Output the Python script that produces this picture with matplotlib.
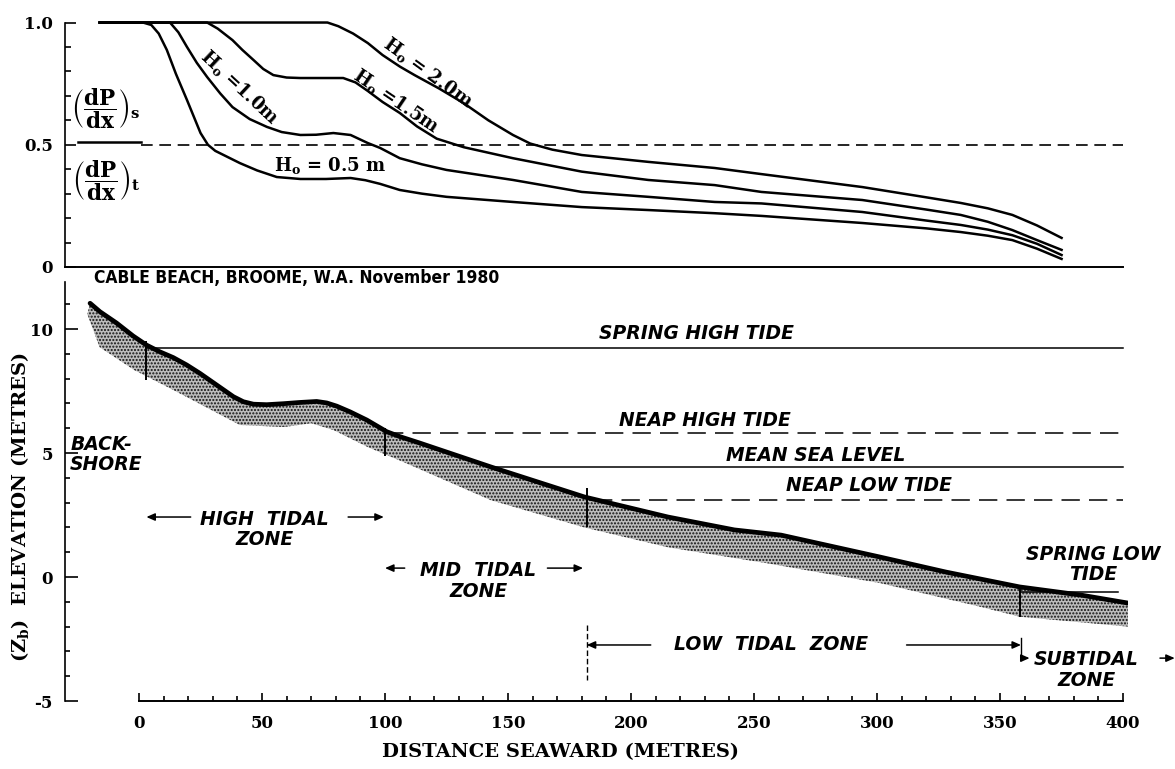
import numpy as np
import matplotlib.pyplot as plt

plt.rcParams['axes.unicode_minus'] = False
plt.rcParams['mathtext.fontset'] = 'dejavuserif'
plt.rcParams['hatch.linewidth'] = 1.0

SERIF = 'DejaVu Serif'
SANS = 'DejaVu Sans'

# ---- top panel: (dP/dx)s / (dP/dx)t for four offshore wave heights
h05_x = [-16, 1.6, 5, 8, 11.3, 15, 19.5, 25, 28, 31, 35, 41, 48, 56, 65.6, 76, 86, 92, 98, 106, 115, 125,
         152, 180, 207, 234, 253, 294, 320, 334, 345, 355, 365, 375]
h05_y = [1, 1, 0.99, 0.955, 0.888, 0.79, 0.683, 0.548, 0.5, 0.475, 0.455, 0.425, 0.395, 0.368, 0.36, 0.36,
         0.364, 0.355, 0.34, 0.315, 0.3, 0.287, 0.266, 0.245, 0.233, 0.22, 0.209, 0.18, 0.158, 0.143, 0.128,
         0.11, 0.075, 0.033]
h10_x = [-16, 12.6, 16, 19.5, 23.5, 27.7, 33, 38, 45, 52, 58, 65.6, 72, 79, 86, 93, 98, 106, 115, 125,
         152, 180, 207, 234, 253, 294, 320, 334, 345, 355, 365, 375]
h10_y = [1, 1, 0.96, 0.9, 0.835, 0.777, 0.71, 0.654, 0.605, 0.573, 0.552, 0.54, 0.541, 0.548, 0.54, 0.507,
         0.487, 0.445, 0.42, 0.397, 0.356, 0.307, 0.287, 0.266, 0.26, 0.225, 0.19, 0.172, 0.153, 0.13, 0.095,
         0.049]
h15_x = [-16, 27.7, 32, 38, 42, 46.5, 50.5, 54.6, 60, 65.6, 83, 88, 93, 99, 106, 113, 121, 132, 152, 180,
         207, 234, 253, 294, 320, 334, 345, 355, 365, 375]
h15_y = [1, 1, 0.975, 0.928, 0.888, 0.847, 0.81, 0.785, 0.775, 0.773, 0.773, 0.755, 0.72, 0.675, 0.63,
         0.575, 0.525, 0.49, 0.445, 0.39, 0.356, 0.335, 0.307, 0.274, 0.235, 0.213, 0.185, 0.151, 0.11, 0.07]
h20_x = [-16, 76.6, 81, 87, 93, 99, 106, 112, 122, 132, 142, 152, 159, 168, 180, 207, 234, 253, 294, 320,
         334, 345, 355, 365, 375]
h20_y = [1, 1, 0.985, 0.955, 0.916, 0.867, 0.82, 0.785, 0.73, 0.67, 0.6, 0.54, 0.505, 0.48, 0.458, 0.43,
         0.405, 0.38, 0.327, 0.285, 0.262, 0.24, 0.213, 0.17, 0.119]
curve_labels = ['H$_\\mathbf{o}$ = 0.5 m', 'H$_\\mathbf{o}$ =1.0m', 'H$_\\mathbf{o}$ =1.5m', 'H$_\\mathbf{o}$ = 2.0m']
threshold = 0.5
top_yticks = [0, 0.5, 1.0]
top_yticklabels = ['0', '0.5', '1.0']

# ---- bottom panel: beach profile, Cable Beach, Broome
profile_x = [-19.9, -15.9, -9.1, -2.4, 3.1, 8.5, 13.9, 19.4, 24.8, 31.6, 38.4, 42.4, 46.5, 51.9, 58.7, 65.4,
             72.2, 76.3, 80.4, 85.8, 92.6, 100.7, 106.1, 114.2, 143, 181, 215, 242, 261, 301, 328, 358, 383, 402]
profile_z = [11.04, 10.7, 10.24, 9.72, 9.35, 9.08, 8.85, 8.55, 8.21, 7.74, 7.27, 7.07, 6.97, 6.95, 6.99, 7.04,
             7.08, 7.02, 6.89, 6.66, 6.33, 5.86, 5.66, 5.4, 4.44, 3.23, 2.42, 1.9, 1.69, 0.81, 0.2, -0.4, -0.73,
             -1.05]
base_x = [-21, -16, -2, 14, 32, 41, 59, 70, 79, 93, 106, 143, 181, 215, 255, 301, 342, 358, 402]
base_z = [10.6, 9.27, 8.35, 7.54, 6.6, 6.13, 6.05, 6.2, 5.93, 5.24, 4.7, 3.1, 2.0, 1.2, 0.56, -0.24, -1.2, -1.6, -2.0]

tide_names = ['SPRING HIGH TIDE', 'NEAP HIGH TIDE', 'MEAN SEA LEVEL', 'NEAP LOW TIDE', 'SPRING LOW\nTIDE']
tide_levels = [9.23, 5.8, 4.44, 3.1, -0.6]
tide_from = [3, 100, 143, 185, 358]
tide_to = [400, 400, 400, 400, 398]

zone_bounds = [3, 100, 182, 358]
mark_top = [9.5, 6.0, 3.6, -0.4]
mark_bot = [7.95, 4.9, 2.0, -1.6]

bot_xticks = list(range(0, 401, 50))
bot_yticks = [-5, 0, 5, 10]

fig = plt.figure(figsize=(11.75, 7.69), dpi=100)
ax_top = fig.add_axes([0.0555, 0.6528, 0.9045, 0.3338])
ax_bot = fig.add_axes([0.0555, 0.0884, 0.9045, 0.5482])

for ax in (ax_top, ax_bot):
    ax.set_xlim(-30, 402)
    ax.spines['top'].set_visible(False)
    ax.spines['right'].set_visible(False)
    ax.spines['left'].set_linewidth(1.2)
    ax.spines['bottom'].set_linewidth(1.4)
    ax.set_facecolor('none')

# ---- top panel
ax_top.set_ylim(0, 1.05)
for cx, cy in [(h05_x, h05_y), (h10_x, h10_y), (h15_x, h15_y), (h20_x, h20_y)]:
    ax_top.plot(cx, cy, color='black', lw=1.8, solid_joinstyle='round')
ax_top.plot([1, 400], [threshold, threshold], color='black', lw=1.2, ls=(0, (7, 4)))
ax_top.plot([-25, 1], [threshold + 0.012] * 2, color='black', lw=1.8)

ax_top.spines['left'].set_bounds(0, 1.0)
ax_top.spines['bottom'].set_bounds(-30, 400)
ax_top.set_xticks([])
ax_top.set_yticks(top_yticks)
ax_top.set_yticklabels(top_yticklabels, fontfamily=SERIF, fontweight='bold', fontsize=12)
ax_top.set_yticks(np.arange(0.1, 1.0, 0.1), minor=True)
ax_top.tick_params(axis='y', which='major', direction='in', length=8, width=1.2, pad=9)
ax_top.tick_params(axis='y', which='minor', direction='in', length=4, width=1.2)

label_pos = [(77.6, 0.417, 0), (40.8, 0.735, -43), (104.5, 0.68, -34), (117.5, 0.795, -36)]
for txt, (lx, ly, rot) in zip(curve_labels, label_pos):
    ax_top.text(lx, ly, txt, rotation=rot, ha='center', va='center',
                fontfamily=SERIF, fontweight='bold', fontsize=13)

ax_top.text(-13.5, 0.646, r'$\left(\dfrac{\mathbf{dP}}{\mathbf{dx}}\right)_{\mathbf{s}}$',
            ha='center', va='center', fontsize=15.5)
ax_top.text(-13.5, 0.355, r'$\left(\dfrac{\mathbf{dP}}{\mathbf{dx}}\right)_{\mathbf{t}}$',
            ha='center', va='center', fontsize=15.5)

# ---- bottom panel
ax_bot.set_ylim(-5, 12)
ax_bot.fill(np.r_[profile_x, base_x[::-1]], np.r_[profile_z, base_z[::-1]],
            facecolor='#bdbdbd', edgecolor='#111111', hatch='.....', linewidth=0)
ax_bot.plot(profile_x, profile_z, color='black', lw=3.4, solid_capstyle='round',
            solid_joinstyle='round', zorder=4)

dash_styles = ['-', (0, (12, 6)), '-', (0, (12, 6)), '-']
for lvl, x0, x1, ls in zip(tide_levels, tide_from, tide_to, dash_styles):
    ax_bot.plot([x0, x1], [lvl, lvl], color='black', lw=1.1, ls=ls)

ax_bot.vlines(zone_bounds, mark_bot, mark_top, color='black', lw=1.4, zorder=5)

ax_bot.spines['left'].set_bounds(-5, 11.9)
ax_bot.spines['bottom'].set_bounds(0, 400)
ax_bot.set_xticks(bot_xticks)
ax_bot.set_xticklabels([str(v) for v in bot_xticks], fontfamily=SERIF, fontweight='bold', fontsize=12)
ax_bot.set_xticks(range(0, 401, 10), minor=True)
ax_bot.set_yticks(bot_yticks)
ax_bot.set_yticklabels([str(v) for v in bot_yticks], fontfamily=SERIF, fontweight='bold', fontsize=12)
ax_bot.set_yticks([v for v in range(-4, 12) if v % 5], minor=True)
ax_bot.tick_params(axis='x', which='major', direction='in', length=6, width=1.2, pad=10)
ax_bot.tick_params(axis='x', which='minor', direction='in', length=3.5, width=1.2)
ax_bot.tick_params(axis='y', which='major', direction='in', length=9, width=1.2, pad=9)
ax_bot.tick_params(axis='y', which='minor', direction='in', length=3.5, width=1.2)

lab = dict(fontfamily=SANS, fontweight='bold', fontstyle='italic', fontsize=13.5)
tide_text_pos = [(226.4, 9.84), (230, 6.33), (275, 4.92), (296.7, 3.71), (387.8, 0.5)]
for name, (tx, ty) in zip(tide_names, tide_text_pos):
    ax_bot.text(tx, ty, name, ha='center', va='center', linespacing=1.1, **lab)

ax_bot.text(-28, 4.95, 'BACK-\nSHORE', ha='left', va='center', linespacing=1.05, **lab)
ax_bot.text(51, 1.92, 'HIGH  TIDAL\nZONE', ha='center', va='center', linespacing=1.1, **lab)
ax_bot.text(138, -0.15, 'MID  TIDAL\nZONE', ha='center', va='center', linespacing=1.1, **lab)
ax_bot.text(257, -2.74, 'LOW  TIDAL  ZONE', ha='center', va='center', **lab)
ax_bot.text(385, -3.75, 'SUBTIDAL\nZONE', ha='center', va='center', linespacing=1.1, **lab)

arrow = dict(arrowstyle='-|>,head_length=0.5,head_width=0.22', color='black', lw=1.1,
             shrinkA=0, shrinkB=0)
zone_arrows = [((21, 2.42), (3, 2.42)), ((85, 2.42), (99.5, 2.42)),
               ((108, 0.36), (100, 0.36)), ((166, 0.36), (180.5, 0.36)),
               ((208, -2.74), (182, -2.74)), ((312, -2.74), (358.5, -2.74)),
               ((415, -3.27), (421, -3.27))]
for start, end in zone_arrows:
    ax_bot.annotate('', xy=end, xytext=start, arrowprops=arrow, annotation_clip=False)
ax_bot.annotate('', xy=(362, -3.27), xytext=(359, -3.27), arrowprops=arrow)

ax_bot.plot([182, 182], [-1.94, -4.15], color='black', lw=1.0, ls=(0, (4, 2)))
ax_bot.plot([358.5, 358.5], [-2.46, -3.35], color='black', lw=1.0)

title = ax_bot.text(-18.3, 12.06, 'CABLE BEACH, BROOME, W.A. November 1980', ha='left', va='center',
                    fontfamily=SANS, fontweight='heavy', fontstretch='condensed', fontsize=14,
                    clip_on=False)
fig.canvas.draw()
width_px = title.get_window_extent().width
title.set_fontsize(14 * 406 / width_px)

fig.text(20 / 1175, 1 - 507 / 769, '(Z$_\\mathbf{b}$)  ELEVATION (METRES)', rotation=90,
         ha='center', va='center', fontfamily=SERIF, fontweight='bold', fontsize=14)
fig.text(560 / 1175, 1 - 752 / 769, 'DISTANCE SEAWARD (METRES)', ha='center', va='center',
         fontfamily=SERIF, fontweight='bold', fontsize=14)

fig.savefig('out.png', dpi=100, facecolor='white')
